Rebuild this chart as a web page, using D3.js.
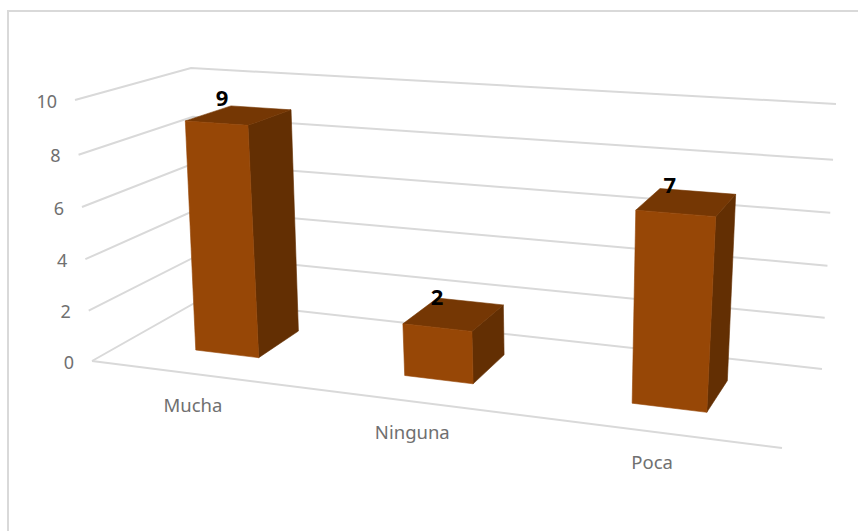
<!DOCTYPE html>
<html><head><meta charset="utf-8">
<script src="https://cdn.jsdelivr.net/npm/d3@7"></script>
<style>html,body{margin:0;padding:0;background:#fff;overflow:hidden}svg{display:block}</style>
</head><body><svg id="c" width="858" height="531"></svg>
<script>
const categories = ["Mucha", "Ninguna", "Poca"];
const values = [9, 2, 7];
const ticks = [0, 2, 4, 6, 8, 10];

const floorQuad = [[92,361],[782,448],[822,369],[200,300]];
const ceilQuad  = [[75,100],[795,150],[836,104],[191,68]];
const barFloorQuad = [[92,361],[778,448],[818,369],[200,300]];
const barCeilQuad = [[78,100],[803,150],[837,104],[196,68]];
const depth = [0.295, 0.71];

function homography(q){
  const [[x0,y0],[x1,y1],[x2,y2],[x3,y3]] = q;
  const dx1=x1-x2, dx2=x3-x2, sx=x0-x1+x2-x3, dy1=y1-y2, dy2=y3-y2, sy=y0-y1+y2-y3;
  const den=dx1*dy2-dx2*dy1, g=(sx*dy2-dx2*sy)/den, h=(dx1*sy-sx*dy1)/den;
  const a=x1-x0+g*x1, b=x3-x0+h*x3, d=y1-y0+g*y1, e=y3-y0+h*y3;
  return (u,w)=>{const k=g*u+h*w+1; return [(a*u+b*w+x0)/k,(d*u+e*w+y0)/k];};
}
const floorH = homography(floorQuad), ceilH = homography(ceilQuad);
const barFloorH = homography(barFloorQuad), barCeilH = homography(barCeilQuad);
const xBand = d3.scaleBand().domain(categories).range([0.002,1.002]).paddingInner(0.69).paddingOuter(0.345);
const yVal = d3.scaleLinear().domain(ticks).range([0,0.193,0.39,0.59,0.79,1]);
const project = (bottom,top) => (u,v,w) => {
  const a=bottom(u,w), b=top(u,w), t=yVal(v);
  return [a[0]+(b[0]-a[0])*t, a[1]+(b[1]-a[1])*t];
};
const P = project(floorH,ceilH), B = project(barFloorH,barCeilH);

const svg = d3.select("#c");
svg.append("path").attr("d","M8,531V11H858").attr("fill","none").attr("stroke","#d9d9d9").attr("stroke-width",2);

const line = d3.line();
const grid = svg.append("g").attr("fill","none").attr("stroke","#d9d9d9").attr("stroke-width",2);
grid.selectAll("path.g").data(ticks).join("path").attr("class","g")
  .attr("d",t=>line([P(0,t,0),P(0,t,1),P(1,t,1)]));
grid.append("path").attr("d",line([P(0,0,0),P(1,0,0)]));

svg.append("g").selectAll("text").data(ticks).join("text")
  .attr("x",t=>P(0,t,0)[0]-18).attr("y",t=>P(0,t,0)[1]+7.5)
  .attr("text-anchor","end").attr("font-family","'Noto Sans'").attr("font-size",18).attr("fill","#707070")
  .text(t=>t);

const bars = categories.map((c,i)=>({c,v:values[i],u0:xBand(c),u1:xBand(c)+xBand.bandwidth()}));
const [w0,w1]=depth;
const faces = [
  {fill:"#632f03", pts:d=>[B(d.u1,0,w0),B(d.u1,0,w1),B(d.u1,d.v,w1),B(d.u1,d.v,w0)]},
  {fill:"#753704", pts:d=>[B(d.u0,d.v,w0),B(d.u1,d.v,w0),B(d.u1,d.v,w1),B(d.u0,d.v,w1)]},
  {fill:"#974706", pts:d=>[B(d.u0,0,w0),B(d.u1,0,w0),B(d.u1,d.v,w0),B(d.u0,d.v,w0)]}
];
const bg = svg.selectAll("g.bar").data(bars).join("g").attr("class","bar");
faces.forEach(f=>bg.append("path").attr("fill",f.fill).attr("stroke",f.fill).attr("stroke-width",0.6).attr("d",d=>line(f.pts(d))+"Z"));

bg.append("text")
  .attr("x",d=>B((d.u0+d.u1)/2,d.v,(w0+w1)/2)[0]-17)
  .attr("y",d=>B((d.u0+d.u1)/2,d.v,(w0+w1)/2)[1]-9)
  .attr("text-anchor","middle").attr("font-family","'Noto Sans'").attr("font-weight",700).attr("font-size",22).attr("fill","#000")
  .text(d=>d.v);

svg.append("g").selectAll("text").data(categories).join("text")
  .attr("x",c=>P(xBand(c)+xBand.bandwidth()/2,0,0)[0]-3)
  .attr("y",c=>P(xBand(c)+xBand.bandwidth()/2,0,0)[1]+37.5)
  .attr("text-anchor","middle").attr("font-family","'Noto Sans'").attr("font-size",18.5).attr("fill","#707070")
  .text(c=>c);
</script></body></html>
